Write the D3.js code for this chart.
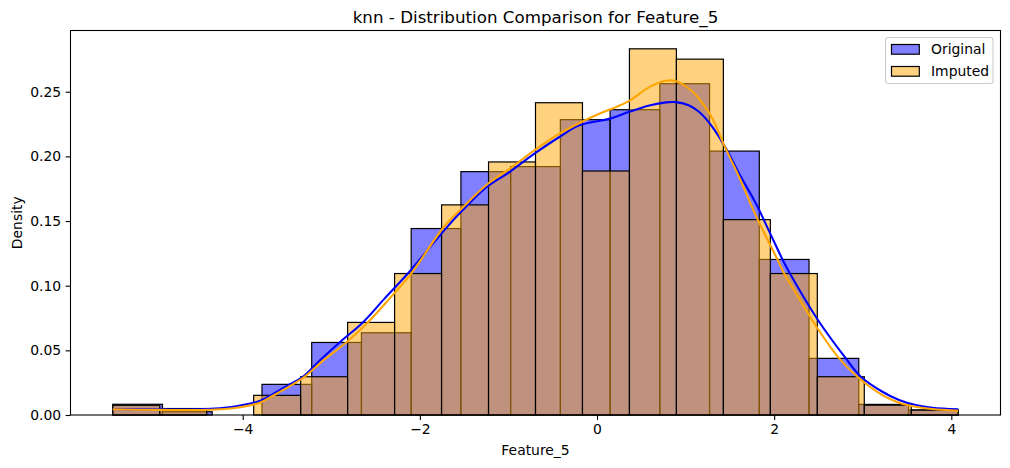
<!DOCTYPE html>
<html>
<head>
<meta charset="utf-8">
<script src="https://cdn.jsdelivr.net/npm/d3@7"></script>
<style>
  html, body { margin: 0; padding: 0; background: #fff; }
  svg text { font-family: "DejaVu Sans", sans-serif; fill: #000; }
</style>
</head>
<body>
<svg id="chart" width="1010" height="468"></svg>
<script>
// values
var title = "knn - Distribution Comparison for Feature_5";
var xLabel = "Feature_5";
var yLabel = "Density";
var seriesNames = ["Original", "Imputed"];
var dataRange = [-5.467, 4.078];

// density per bin (bins split dataRange evenly)
var originalDensity = [0.0083, 0.0025, 0, 0.0237, 0.0561, 0.0636, 0.1442, 0.1882, 0.1921,
  0.2284, 0.2361, 0.2562, 0.2041, 0.1203, 0.0438, 0.0082, 0.0039];
var imputedDensity = [0.0075, 0.0050, 0, 0.0152, 0.0296, 0.0716, 0.1094, 0.1625, 0.1957,
  0.2415, 0.1887, 0.2832, 0.2752, 0.1511, 0.1094, 0.0296, 0.0076, 0.0038];

// kde curves, [x, density]
var originalKde = [[-5.467, 0.0046], [-5.163, 0.0045], [-4.825, 0.0043], [-4.486, 0.0044],
  [-4.261, 0.0052], [-4.072, 0.0067], [-3.809, 0.0108], [-3.659, 0.0162], [-3.471, 0.0237],
  [-3.321, 0.0296], [-3.133, 0.0420], [-2.907, 0.0561], [-2.644, 0.0716], [-2.399, 0.0900],
  [-2.136, 0.1094], [-1.723, 0.1430], [-1.516, 0.1585], [-1.252, 0.1759], [-0.989, 0.1879],
  [-0.707, 0.2021], [-0.425, 0.2150], [-0.200, 0.2240], [0.146, 0.2292], [0.356, 0.2343],
  [0.590, 0.2394], [0.778, 0.2418], [0.891, 0.2420], [1.041, 0.2394], [1.154, 0.2343],
  [1.304, 0.2227], [1.473, 0.2041], [1.604, 0.1867], [1.794, 0.1635], [1.944, 0.1420],
  [2.094, 0.1203], [2.178, 0.1094], [2.494, 0.0735], [2.809, 0.0438], [2.978, 0.0296],
  [3.222, 0.0180], [3.410, 0.0116], [3.598, 0.0077], [3.786, 0.0056], [4.078, 0.0044]];
var imputedKde = [[-5.467, 0.0044], [-5.163, 0.0041], [-4.825, 0.0039], [-4.486, 0.0039],
  [-4.261, 0.0044], [-4.072, 0.0056], [-3.809, 0.0095], [-3.659, 0.0149], [-3.434, 0.0237],
  [-3.302, 0.0296], [-3.076, 0.0430], [-2.831, 0.0561], [-2.588, 0.0716], [-2.343, 0.0900],
  [-2.098, 0.1094], [-1.723, 0.1460], [-1.516, 0.1605], [-1.252, 0.1777], [-0.989, 0.1903],
  [-0.707, 0.2047], [-0.425, 0.2176], [-0.200, 0.2258], [0.026, 0.2330],
  [0.214, 0.2381], [0.364, 0.2430], [0.590, 0.2536], [0.778, 0.2585], [0.891, 0.2582],
  [1.041, 0.2523], [1.154, 0.2446], [1.304, 0.2292], [1.436, 0.2085], [1.604, 0.1841],
  [1.794, 0.1540], [2.037, 0.1203], [2.113, 0.1094], [2.282, 0.0901], [2.470, 0.0690],
  [2.733, 0.0438], [2.940, 0.0296], [3.222, 0.0154], [3.410, 0.0095], [3.598, 0.0064],
  [3.786, 0.0046], [4.078, 0.0033]];

var xTicks = [-4, -2, 0, 2, 4];
var yTicks = [0, 0.05, 0.10, 0.15, 0.20, 0.25];

var fills = ["rgba(0,0,255,0.5)", "rgba(255,165,0,0.5)"];
var lineColors = ["#0000ff", "#ffa500"];

var margin = {left: 70.5, right: 9.5, top: 30.5, bottom: 53};
var W = 1010, H = 468;
var svg = d3.select("#chart");

// matplotlib style 5% margins
var span = dataRange[1] - dataRange[0];
var yMax = d3.max(originalDensity.concat(imputedDensity)) * 1.05;
var x = d3.scaleLinear()
  .domain([dataRange[0] - span * 0.05, dataRange[1] + span * 0.05])
  .range([margin.left, W - margin.right]);
var y = d3.scaleLinear().domain([0, yMax]).range([H - margin.bottom, margin.top]);

function bins(dens){
  var n = dens.length, w = span / n;
  return dens.map(function(d, i){
    return {x0: dataRange[0] + i * w, x1: dataRange[0] + (i + 1) * w, d: d};
  });
}

var plot = svg.append("g");
[originalDensity, imputedDensity].forEach(function(dens, k){
  plot.append("g").selectAll("rect").data(bins(dens).filter(function(b){ return b.d > 0; }))
    .enter().append("rect")
    .attr("x", function(b){ return x(b.x0); })
    .attr("width", function(b){ return x(b.x1) - x(b.x0); })
    .attr("y", function(b){ return y(b.d); })
    .attr("height", function(b){ return y(0) - y(b.d); })
    .attr("fill", fills[k])
    .attr("stroke", "#000")
    .attr("stroke-width", 1.2);
});

var line = d3.line()
  .x(function(p){ return x(p[0]); })
  .y(function(p){ return y(p[1]); })
  .curve(d3.curveCatmullRom.alpha(0.5));
[originalKde, imputedKde].forEach(function(kde, k){
  plot.append("path").attr("d", line(kde))
    .attr("fill", "none").attr("stroke", lineColors[k]).attr("stroke-width", 2.1);
});

// axes
var fmtY = d3.format(".2f");
var xAxis = svg.append("g").attr("transform", "translate(0," + y(0) + ")")
  .call(d3.axisBottom(x).tickValues(xTicks).tickSize(4.9).tickPadding(4.5)
    .tickFormat(function(d){ return d < 0 ? "\u2212" + Math.abs(d) : d; }));
var yAxis = svg.append("g").attr("transform", "translate(" + x.range()[0] + ",0)")
  .call(d3.axisLeft(y).tickValues(yTicks).tickSize(4.9).tickPadding(4.5).tickFormat(fmtY));
[xAxis, yAxis].forEach(function(a){
  a.select(".domain").remove();
  a.selectAll(".tick line").attr("stroke", "#000").attr("stroke-width", 1.1);
  a.selectAll(".tick text").attr("font-size", "13.9px").attr("font-family", "DejaVu Sans");
});

svg.append("rect")
  .attr("x", x.range()[0]).attr("y", y.range()[1])
  .attr("width", x.range()[1] - x.range()[0]).attr("height", y.range()[0] - y.range()[1])
  .attr("fill", "none").attr("stroke", "#000").attr("stroke-width", 1.1);

svg.append("text").attr("x", (x.range()[0] + x.range()[1]) / 2).attr("y", 22.5)
  .attr("text-anchor", "middle").attr("font-size", "16.7px").text(title);
svg.append("text").attr("x", (x.range()[0] + x.range()[1]) / 2).attr("y", 455)
  .attr("text-anchor", "middle").attr("font-size", "13.9px").text(xLabel);
svg.append("text").attr("transform", "translate(21.5," + ((y.range()[0] + y.range()[1]) / 2) + ") rotate(-90)")
  .attr("text-anchor", "middle").attr("font-size", "13.9px").text(yLabel);

// legend
var lg = svg.append("g").attr("transform", "translate(885.5,37.5)");
lg.append("rect").attr("width", 107.5).attr("height", 46).attr("rx", 2.8)
  .attr("fill", "rgba(255,255,255,0.8)").attr("stroke", "#cccccc").attr("stroke-width", 1.1);
seriesNames.forEach(function(name, k){
  var row = lg.append("g").attr("transform", "translate(6," + (7 + k * 22) + ")");
  row.append("rect").attr("width", 27.8).attr("height", 9.7)
    .attr("fill", fills[k]).attr("stroke", "#000").attr("stroke-width", 1.2);
  row.append("text").attr("x", 39.5).attr("y", 4.85).attr("dy", "0.35em")
    .attr("font-size", "13.9px").text(name);
});
</script>
</body>
</html>
